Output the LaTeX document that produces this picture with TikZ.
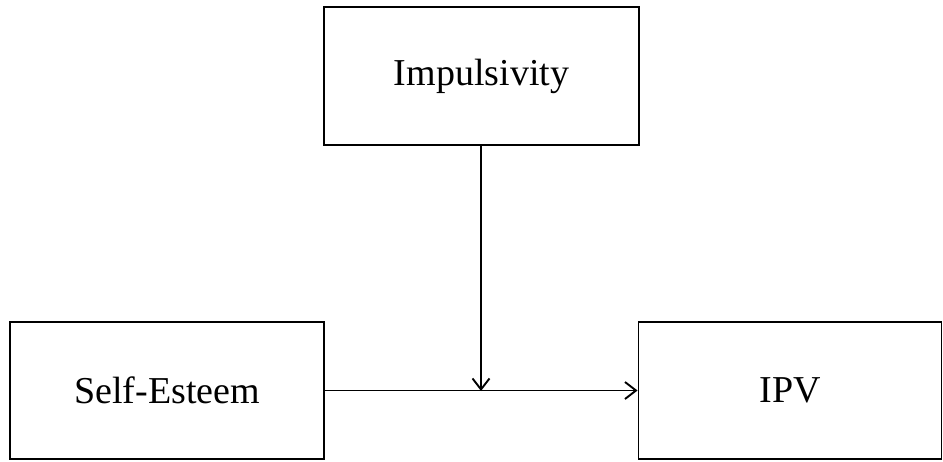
\documentclass[tikz,border=0pt]{standalone}
\usepackage{fontspec}
\setmainfont{Liberation Serif}
\usetikzlibrary{arrows.meta}
\begin{document}
\begin{tikzpicture}[x=1pt,y=-1pt,
  box/.style={draw, line width=1.9pt, inner sep=0pt, font=\fontsize{38}{42}\selectfont},
  link/.style={line width=1.9pt, -{Straight Barb[length=11pt,width=17pt,line width=1.9pt]}}]
  \useasboundingbox (0,0) rectangle (943,461);
  \node[box, minimum width=315pt, minimum height=138pt] (imp) at (481.5,76) {Impulsivity};
  \node[box, minimum width=314pt, minimum height=137pt] (se) at (167,390.5) {Self-Esteem};
  \node[box, minimum width=303pt, minimum height=137pt] (ipv) at (790,390.5) {IPV};
  \coordinate (mid) at (481,391);
  \draw[link] (se.east) -- (ipv.west);
  \draw[link] (imp.south -| mid) -- (mid);
\end{tikzpicture}
\end{document}
